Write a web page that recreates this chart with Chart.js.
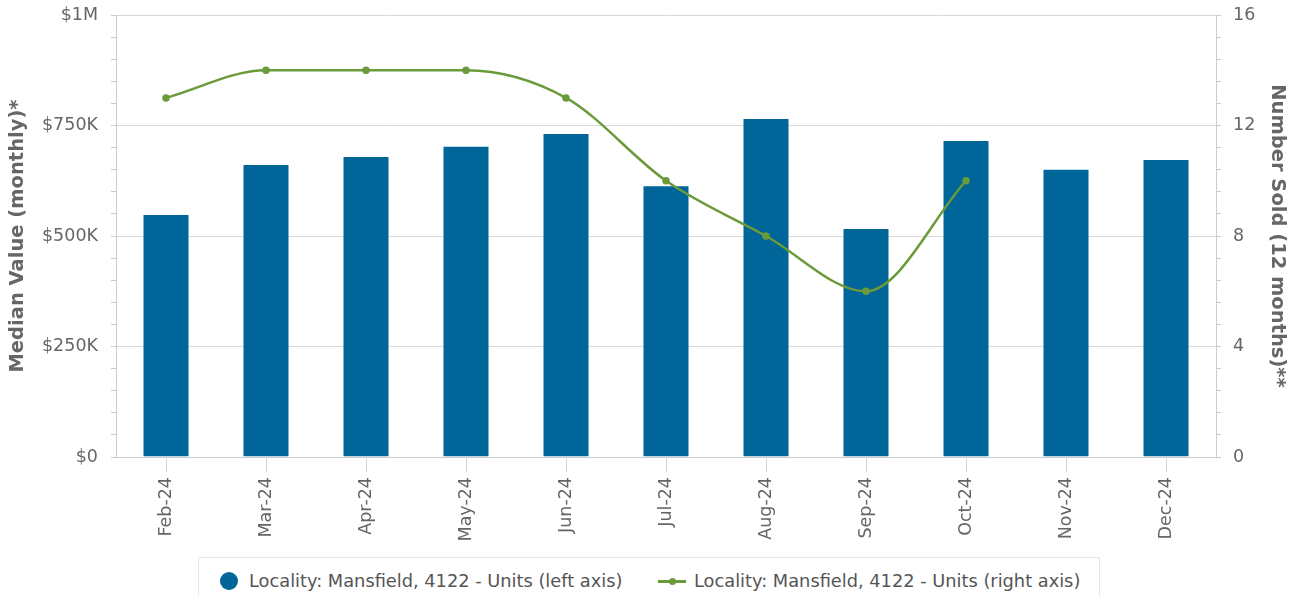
<!DOCTYPE html>
<html>
<head>
<meta charset="utf-8">
<script src="https://cdn.jsdelivr.net/npm/chart.js@4.4.1/dist/chart.umd.min.js"></script>
<style>
  body { margin: 0; background: #fff; font-family: "DejaVu Sans", sans-serif; }
  #wrap { position: relative; width: 1301px; height: 596px; overflow: hidden; }
  #legend {
    position: absolute; left: 198px; top: 557px; width: 902px; height: 60px;
    border: 1px solid #e6e6e6; box-sizing: border-box; background: #fff;
    font-size: 17.8px; color: #555;
  }
  .item { position: absolute; top: 12px; white-space: nowrap; }
  .dot { position: absolute; top: 2px; width: 18px; height: 18px; border-radius: 50%; background: #006598; }
  .ln { position: absolute; top: 10px; width: 28px; height: 3px; background: #6a9a3a; }
  .ln::after { content: ""; position: absolute; left: 11px; top: -2px; width: 7px; height: 7px; border-radius: 50%; background: #6a9a3a; }
</style>
</head>
<body>
<div id="wrap">
  <canvas id="chart" width="1301" height="596"></canvas>
  <div id="legend">
    <div class="item" style="left:21px"><span class="dot"></span><span style="margin-left:29px">Locality: Mansfield, 4122 - Units (left axis)</span></div>
    <div class="item" style="left:459px"><span class="ln"></span><span style="margin-left:36px">Locality: Mansfield, 4122 - Units (right axis)</span></div>
  </div>
</div>
<script>
const months = ["Feb-24", "Mar-24", "Apr-24", "May-24", "Jun-24", "Jul-24", "Aug-24", "Sep-24", "Oct-24", "Nov-24", "Dec-24"];
const medianValues = [550000, 663000, 681000, 704000, 733000, 615000, 767000, 518000, 717000, 652000, 674000];
const numberSold = [13, 14, 14, 14, 13, 10, 8, 6, 10, null, null];
const leftTickLabels = { 0: "$0", 250000: "$250K", 500000: "$500K", 750000: "$750K", 1000000: "$1M" };

const grey = "#666666";

// keep the plot area where the reference has it
function noPad(s) { s.paddingTop = 0; s.paddingBottom = 0; s.paddingLeft = 0; s.paddingRight = 0; }

new Chart(document.getElementById("chart"), {
  data: {
    labels: months,
    datasets: [
      {
        type: "line",
        label: "Locality: Mansfield, 4122 - Units (right axis)",
        data: numberSold,
        yAxisID: "y2",
        borderColor: "#6a9a3a",
        backgroundColor: "#6a9a3a",
        borderWidth: 2.5,
        pointRadius: 2.5,
        cubicInterpolationMode: "monotone",
        order: 1
      },
      {
        type: "bar",
        label: "Locality: Mansfield, 4122 - Units (left axis)",
        data: medianValues,
        yAxisID: "y",
        backgroundColor: "#006598",
        borderColor: "#ffffff",
        borderWidth: 1,
        categoryPercentage: 1,
        barPercentage: 0.47,
        order: 2
      }
    ]
  },
  options: {
    responsive: false,
    animation: false,
    layout: { padding: { top: 15, left: 0, right: 0, bottom: 0 } },
    plugins: { legend: { display: false }, tooltip: { enabled: false } },
    scales: {
      x: {
        grid: { drawOnChartArea: false, offset: false, tickLength: 15, tickColor: "#ccd6eb" },
        border: { color: "#cccccc" },
        ticks: {
          color: grey, font: { family: "DejaVu Sans", size: 17.5 },
          minRotation: 90, maxRotation: 90, padding: 5, autoSkip: false
        },
        afterFit: (s) => { s.height = 139; noPad(s); }
      },
      y: {
        position: "left",
        min: 0, max: 1000000,
        grid: {
          color: (c) => (c.tick && c.tick.value % 250000 === 0 ? "#d8d8d8" : "rgba(0,0,0,0)"),
          tickColor: "#cccccc", tickLength: 5
        },
        border: { color: "#cccccc" },
        ticks: {
          stepSize: 50000, color: grey, font: { family: "DejaVu Sans", size: 17.5 },
          padding: 13, autoSkip: false,
          callback: (v) => (leftTickLabels[v] !== undefined ? leftTickLabels[v] : "")
        },
        title: {
          display: true, text: "Median Value (monthly)*", color: grey,
          font: { family: "DejaVu Sans", size: 19.5, weight: "bold" }, padding: { top: 6, bottom: 0 }
        },
        afterFit: (s) => { s.width = 116; noPad(s); }
      },
      y2: {
        position: "right",
        min: 0, max: 16,
        grid: { drawOnChartArea: false, tickColor: "#cccccc", tickLength: 5 },
        border: { color: "#cccccc" },
        ticks: {
          stepSize: 0.8, color: grey, font: { family: "DejaVu Sans", size: 17.5 },
          padding: 12, autoSkip: false,
          callback: (v) => {
            const r = Math.round(v / 4);
            return Math.abs(v / 4 - r) < 1e-6 ? String(r * 4) : "";
          }
        },
        title: {
          display: true, text: "Number Sold (12 months)**", color: grey,
          font: { family: "DejaVu Sans", size: 19.5, weight: "bold" }, padding: { top: 12, bottom: 0 }
        },
        afterFit: (s) => { s.width = 85; noPad(s); }
      }
    }
  }
});
</script>
</body>
</html>
